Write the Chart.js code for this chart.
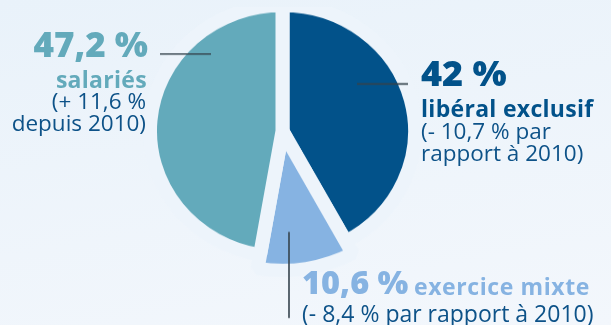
<!DOCTYPE html>
<html lang="fr">
<head>
    <meta charset="UTF-8">
    <title>Mode d'exercice</title>
    <script src="https://cdn.jsdelivr.net/npm/chart.js"></script>
    <style>
        html, body { margin: 0; padding: 0; }
        body {
            width: 611px;
            height: 325px;
            overflow: hidden;
            position: relative;
            background: linear-gradient(170deg, #e9f2fa 0%, #f3f7fc 100%);
            font-family: 'Open Sans', sans-serif;
        }
        /* the pie is slightly flattened in the original, so squash the canvas a bit */
        #pieBox {
            position: absolute;
            left: 0;
            top: 0;
            width: 611px;
            height: 340px;
            transform: scaleY(0.948);
            transform-origin: 0 131px;
        }
        .t { position: absolute; white-space: nowrap; line-height: 1; }
        .big { font-weight: 800; }
        .name { font-weight: 700; font-size: 23px; letter-spacing: 0.3px; }
        .chg { font-weight: 400; font-size: 22.5px; color: #0d5288; }
        .right { text-align: right; }
    </style>
</head>
<body>
    <div id="pieBox"><canvas id="pie"></canvas></div>

    <!-- salariés -->
    <div class="t big right" id="big2" style="right:463px; top:26px; font-size:35px;"></div>
    <div class="t name right" id="name2" style="right:464px; top:67.6px;"></div>
    <div class="t chg right" id="chg2a" style="right:465px; top:90px;"></div>
    <div class="t chg right" id="chg2b" style="right:465px; top:112px;"></div>

    <!-- libéral exclusif -->
    <div class="t big" id="big0" style="left:421px; top:55px; font-size:36px;"></div>
    <div class="t name" id="name0" style="left:421px; top:96.6px;"></div>
    <div class="t chg" id="chg0a" style="left:421px; top:120px;"></div>
    <div class="t chg" id="chg0b" style="left:421px; top:142px;"></div>

    <!-- exercice mixte -->
    <div class="t big" id="big1" style="left:302px; top:266px; font-size:32.5px;"></div>
    <div class="t name" id="name1" style="left:414px; top:275px; letter-spacing:0.6px;"></div>
    <div class="t chg" id="chg1a" style="left:302px; top:301.6px; font-size:23px;"></div>

    <script>
        // Data
        const categories = ['libéral exclusif', 'exercice mixte', 'salariés'];
        const shares = [42, 10.6, 47.2];
        const changeLines = [
            ['(- 10,7 % par', 'rapport à 2010)'],
            ['(- 8,4 % par rapport à 2010)'],
            ['(+ 11,6 %', 'depuis 2010)']
        ];
        const sliceColors = ['#02528a', '#86b3e2', '#63aabb'];

        const SY = 0.948;          // same as the css scaleY
        const bg = '#edf4fb';

        // labels
        categories.forEach((cat, i) => {
            const big = document.getElementById('big' + i);
            big.textContent = shares[i].toLocaleString('fr-FR') + ' %';
            big.style.color = sliceColors[i];
            const name = document.getElementById('name' + i);
            name.textContent = cat;
            name.style.color = sliceColors[i];
            changeLines[i].forEach((line, j) => {
                document.getElementById('chg' + i + 'ab'[j]).textContent = line;
            });
        });

        // small slice sticks out further than the others
        const popSlice = {
            id: 'popSlice',
            afterDatasetUpdate(chart) {
                const arc = chart.getDatasetMeta(0).data[1];
                if (arc) arc.outerRadius += 14.5;
            },
            afterDatasetsDraw(chart) {
                const arc = chart.getDatasetMeta(0).data[0];
                const cx = arc.x, cy = arc.y;
                const ctx = chart.ctx;
                // leader lines, offsets in screen px from the pie centre
                const leaders = [
                    [74.5, -47, 125.5, -47],
                    [6.5, 101, 6.5, 187],
                    [-122.5, -77, -71.5, -77]
                ];
                ctx.save();
                ctx.strokeStyle = '#35434d';
                ctx.lineWidth = 1.6;
                leaders.forEach(l => {
                    ctx.beginPath();
                    ctx.moveTo(cx + l[0], cy + l[1] / SY);
                    ctx.lineTo(cx + l[2], cy + l[3] / SY);
                    ctx.stroke();
                });
                ctx.restore();
            }
        };

        new Chart(document.getElementById('pie'), {
            type: 'pie',
            data: {
                labels: categories,
                datasets: [{
                    data: shares,
                    backgroundColor: sliceColors,
                    borderColor: bg,
                    borderWidth: 14
                }]
            },
            options: {
                responsive: true,
                maintainAspectRatio: false,
                animation: false,
                radius: 132.5,
                layout: { padding: { left: 0, right: 46, top: 0, bottom: 78 } },
                plugins: {
                    legend: { display: false },
                    tooltip: { enabled: false }
                }
            },
            plugins: [popSlice]
        });
    </script>
</body>
</html>
